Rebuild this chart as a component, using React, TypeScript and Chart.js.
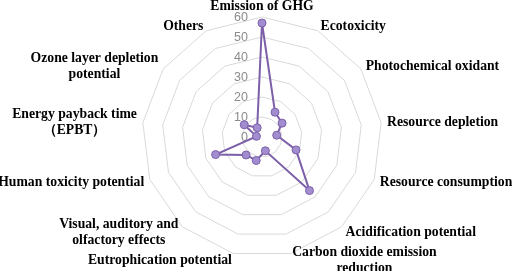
import React, { useEffect, useRef } from "react";
import { Chart, registerables } from "chart.js";

Chart.register(...registerables);

const categories: string[][] = [
  ["Emission of GHG"],
  ["Ecotoxicity"],
  ["Photochemical oxidant"],
  ["Resource depletion"],
  ["Resource consumption"],
  ["Acidification potential"],
  ["Carbon dioxide emission", "reduction"],
  ["Eutrophication potential"],
  ["Visual, auditory and", "olfactory effects"],
  ["Human toxicity potential"],
  ["Energy payback time", "（EPBT）"],
  ["Ozone layer depletion", "potential"],
  ["Others"],
];

const values: number[] = [57, 14, 12.2, 7.4, 18.2, 35.8, 7.1, 12.1, 12, 24.8, 2.8, 10.8, 5.2];

const scaleMin = 0;
const scaleMax = 60;
const scaleStep = 10;

const LABEL_FONT = "bold 13.7px 'Liberation Serif', 'Times New Roman', serif";
const TICK_FONT = "12.5px 'Liberation Sans', Arial, sans-serif";

const labelPlugin = {
  id: "customLabels",
  beforeDatasetsDraw(chart: any) {
    const scale = chart.scales.r;
    const ctx = chart.ctx;
    ctx.save();
    ctx.font = TICK_FONT;
    ctx.fillStyle = "#8c8c8c";
    ctx.textAlign = "right";
    ctx.textBaseline = "middle";
    for (const t of scale.ticks) {
      const d = scale.getDistanceFromCenterForValue(t.value);
      ctx.fillText(String(t.value), scale.xCenter - 14, scale.yCenter - d + 1);
    }
    ctx.restore();
  },
  afterDraw(chart: any) {
    const scale = chart.scales.r;
    const ctx = chart.ctx;
    const R = scale.drawingArea;
    const lineH = 16;
    ctx.save();
    ctx.font = LABEL_FONT;
    ctx.fillStyle = "#000";
    ctx.textBaseline = "middle";
    ctx.textAlign = "center";
    categories.forEach((lines, i) => {
      const p = scale.getPointPosition(i, R + 6);
      const angle = scale.getIndexAngle(i);
      const s = Math.sin(angle);
      const widths = lines.map((l) => ctx.measureText(l).width);
      const bw = Math.max(...widths);
      const bh = lines.length * lineH;
      let cx: number;
      if (s > 0.1) cx = p.x + bw / 2;
      else if (s < -0.1) cx = p.x - bw / 2;
      else cx = p.x;
      let cy = p.y + 1;
      if (Math.abs(s) <= 0.1) cy = p.y - bh / 2 + 3;
      lines.forEach((l, k) => {
        const y = cy - bh / 2 + lineH / 2 + k * lineH;
        ctx.fillText(l, cx, y);
      });
    });
    ctx.restore();
  },
};

export default function App() {
  const ref = useRef<HTMLCanvasElement | null>(null);
  useEffect(() => {
    if (!ref.current) return;
    const chart = new Chart(ref.current, {
      type: "radar",
      data: {
        labels: categories.map((c) => c.join(" ")),
        datasets: [
          {
            data: values,
            borderColor: "#7c5fa8",
            borderWidth: 2,
            backgroundColor: "rgba(0,0,0,0)",
            fill: false,
            pointRadius: 4,
            pointBackgroundColor: "#a18dcf",
            pointBorderColor: "#7c5fa8",
            pointBorderWidth: 1,
            tension: 0,
          },
        ],
      },
      options: {
        responsive: false,
        maintainAspectRatio: false,
        animation: false,
        layout: { padding: { left: 100, right: 88, top: 17, bottom: 14 } },
        plugins: { legend: { display: false }, tooltip: { enabled: false } },
        scales: {
          r: {
            min: scaleMin,
            max: scaleMax,
            ticks: { stepSize: scaleStep, display: false },
            grid: { color: "#d9d9d9", lineWidth: 1 },
            angleLines: { display: false },
            pointLabels: { display: false },
          },
        },
      },
      plugins: [labelPlugin],
    });
    return () => chart.destroy();
  }, []);
  return (
    <div style={{ position: "fixed", left: 0, top: 0, width: 512, height: 271, background: "#fff" }}>
      <canvas ref={ref} width={512} height={271} style={{ width: 512, height: 271, display: "block" }} />
    </div>
  );
}
